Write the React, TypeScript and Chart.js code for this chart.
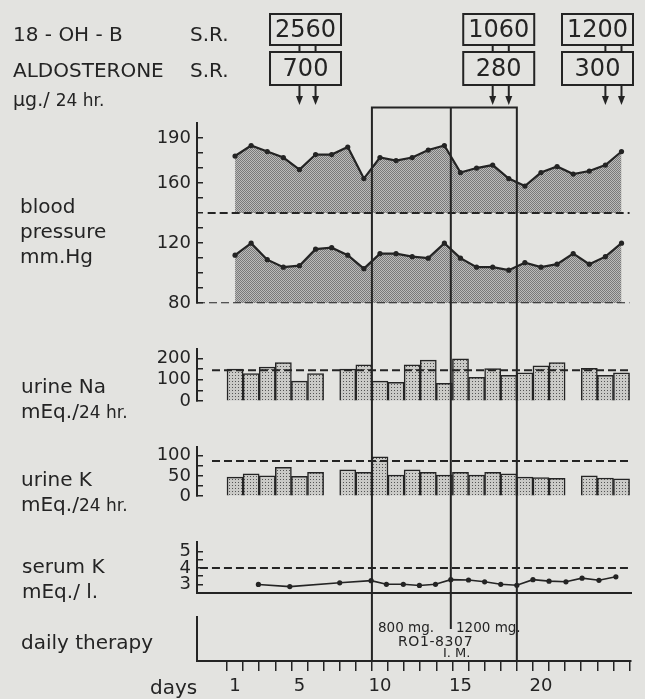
import React, { useEffect, useRef } from "react";
import { Chart, registerables } from "chart.js";
Chart.register(...registerables);

const FONT = '"DejaVu Sans", "Liberation Sans", sans-serif';
const INK = "#242424";
const PAPER = "#e3e3e0";

// ---------------- data ----------------
const bpDays = [1, 2, 3, 4, 5, 6, 7, 8, 9, 10, 11, 12, 13, 14, 15, 16, 17, 18, 19, 20, 21, 22, 23, 24, 25];
const systolic = [178, 185, 181, 177, 169, 179, 179, 184, 163, 177, 175, 177, 182, 185, 167, 170, 172, 163, 158, 167, 171, 166, 168, 172, 181];
const diastolic = [112, 120, 109, 104, 105, 116, 117, 112, 103, 113, 113, 111, 110, 120, 110, 104, 104, 102, 107, 104, 106, 113, 106, 111, 120];
const bpNormalHigh = 140;
const bpNormalLow = 80;
const bpTicks = [80, 90, 100, 110, 120, 130, 140, 150, 160, 170, 180, 190];
const bpTickLabels = [80, 120, 160, 190];

const urineDays = [1, 2, 3, 4, 5, 6, 7, 8, 9, 10, 11, 12, 13, 14, 15, 16, 17, 18, 19, 20, 21, 22, 23, 24, 25];
const urineNa = [150, 129, 160, 180, 94, 129, null, 150, 170, 94, 88, 170, 192, 83, 198, 112, 153, 121, 133, 165, 180, null, 154, 121, 133];
const urineNaNormal = 145;
const naTicks = [0, 50, 100, 150, 200];
const naTickLabels = [0, 100, 200];

const urineK = [47, 55, 50, 71, 49, 59, null, 65, 59, 97, 52, 65, 59, 52, 59, 52, 59, 55, 47, 46, 44, null, 50, 45, 43];
const urineKNormal = 87;
const kTicks = [0, 25, 50, 75, 100];
const kTickLabels = [0, 50, 100];

const serumKDays = [2.45, 4.4, 7.5, 9.45, 10.4, 11.45, 12.45, 13.45, 14.4, 15.5, 16.5, 17.5, 18.5, 19.5, 20.5, 21.55, 22.55, 23.6, 24.65];
const serumK = [3.0, 2.87, 3.1, 3.23, 3.01, 3.01, 2.94, 3.01, 3.29, 3.27, 3.16, 3.01, 2.95, 3.29, 3.2, 3.16, 3.38, 3.25, 3.46];
const serumKNormal = 4;
const serumKTicks = [3, 3.5, 4, 4.5, 5];
const serumKTickLabels = [3, 4, 5];

const dayBoundaries = [0.5, 1.5, 2.5, 3.5, 4.5, 5.5, 6.5, 7.5, 8.5, 9.5, 10.5, 11.5, 12.5, 13.5, 14.5, 15.5, 16.5, 17.5, 18.5, 19.5, 20.5, 21.5, 22.5, 23.5, 24.5, 25.5];
const dayTickLabels = [1, 5, 10, 15, 20];

const therapyStart = 9.5;
const doseChange = 14.4;
const therapyEnd = 18.5;

const srDays = [[5, 6], [17, 18], [24, 25]];
const ohbSecretion = [2560, 1060, 1200];
const aldoSecretion = [700, 280, 300];

// ---------------- layout ----------------
const X_MIN = -1.363;
const X_MAX = 25.59;
const AXIS_W = 197;
const PAD_R = 14;

function makePattern(ctx: CanvasRenderingContext2D, bg: string, dot: string, size: number, dots: number[][]) {
  const c = document.createElement("canvas");
  c.width = size;
  c.height = size;
  const g = c.getContext("2d")!;
  g.fillStyle = bg;
  g.fillRect(0, 0, size, size);
  g.fillStyle = dot;
  dots.forEach(([x, y]) => g.fillRect(x, y, 1, 1));
  return ctx.createPattern(c, "repeat");
}

function yAxis(min: number, max: number, ticks: number[], labels: number[]) {
  return {
    type: "linear",
    min,
    max,
    afterBuildTicks: (s: any) => {
      s.ticks = ticks.map((v) => ({ value: v }));
    },
    afterFit: (s: any) => {
      s.width = AXIS_W;
    },
    border: { display: true, color: INK, width: 2 },
    grid: { drawOnChartArea: false, drawTicks: true, tickLength: -6, color: INK, lineWidth: 1.5 },
    ticks: {
      autoSkip: false,
      padding: 12,
      color: INK,
      font: { family: FONT, size: 18 },
      callback: (v: number) => (labels.includes(v) ? String(v) : ""),
    },
  };
}

function hiddenX() {
  return { type: "linear", min: X_MIN, max: X_MAX, display: false, offset: false };
}

function vline(x: number, y1: number, y2: number) {
  return {
    type: "line",
    data: [
      { x, y: y1 },
      { x, y: y2 },
    ],
    borderColor: INK,
    borderWidth: 2,
    pointRadius: 0,
    fill: false,
    clip: false,
    order: 1,
  };
}

function dashed(y: number, from: number) {
  return {
    type: "line",
    data: [
      { x: from, y },
      { x: 25.5, y },
    ],
    borderColor: INK,
    borderWidth: 2,
    borderDash: [8, 4],
    pointRadius: 0,
    fill: false,
    order: 0,
  };
}

function baseOptions(padding: any, scales: any, plugins: any = {}) {
  return {
    responsive: false,
    maintainAspectRatio: false,
    animation: false,
    events: [],
    layout: { padding },
    plugins: { legend: { display: false }, tooltip: { enabled: false }, ...plugins },
    scales,
  };
}

const srBoxesPlugin = {
  id: "srBoxes",
  afterDatasetsDraw(chart: any) {
    const ctx = chart.ctx;
    const xs = chart.scales.x;
    ctx.save();
    ctx.strokeStyle = INK;
    ctx.fillStyle = INK;
    ctx.lineWidth = 2;
    ctx.font = `24px ${FONT}`;
    ctx.textAlign = "center";
    ctx.textBaseline = "middle";
    srDays.forEach((pair, i) => {
      const x1 = xs.getPixelForValue(pair[0]);
      const x2 = xs.getPixelForValue(pair[1]);
      const w = 71;
      const left = Math.min((x1 + x2) / 2 - w / 2 - 2, chart.width - 12 - w);
      const cx = left + w / 2;
      ctx.strokeRect(left, 14, w, 31);
      ctx.strokeRect(left, 52, w, 33);
      ctx.fillText(String(ohbSecretion[i]), cx, 31);
      ctx.fillText(String(aldoSecretion[i]), cx, 70);
      [x1, x2].forEach((ax) => {
        ctx.beginPath();
        ctx.moveTo(ax, 45);
        ctx.lineTo(ax, 52);
        ctx.moveTo(ax, 85);
        ctx.lineTo(ax, 97);
        ctx.stroke();
        ctx.beginPath();
        ctx.moveTo(ax - 3.5, 96);
        ctx.lineTo(ax + 3.5, 96);
        ctx.lineTo(ax, 105);
        ctx.closePath();
        ctx.fill();
      });
    });
    ctx.restore();
  },
};

function T({ x, b, s = 20, children, style }: any) {
  return (
    <div
      style={{
        position: "absolute",
        left: x,
        top: b - 0.846 * s,
        fontSize: s,
        lineHeight: `${s}px`,
        whiteSpace: "nowrap",
        ...style,
      }}
    >
      {children}
    </div>
  );
}

export default function App() {
  const aRef = useRef<HTMLCanvasElement>(null);
  const bRef = useRef<HTMLCanvasElement>(null);
  const cRef = useRef<HTMLCanvasElement>(null);
  const dRef = useRef<HTMLCanvasElement>(null);
  const eRef = useRef<HTMLCanvasElement>(null);

  useEffect(() => {
    const charts: Chart[] = [];
    const actx = aRef.current!.getContext("2d")!;
    const bpPattern = makePattern(actx, "#bcbcbb", "#7a7a7a", 2, [
      [0, 0],
      [1, 1],
    ]);
    const naPattern = makePattern(bRef.current!.getContext("2d")!, "#cacac7", "#555555", 3, [[1, 1]]);
    const kPattern = makePattern(cRef.current!.getContext("2d")!, "#cacac7", "#555555", 3, [[1, 1]]);

    // ---- blood pressure ----
    const frameTop = 210.3;
    charts.push(
      new Chart(aRef.current!, {
        type: "line",
        data: {
          datasets: [
            dashed(bpNormalHigh, -0.7),
            dashed(bpNormalLow, X_MIN),
            {
              type: "line",
              data: [
                { x: therapyStart, y: -100 },
                { x: therapyStart, y: frameTop },
                { x: therapyEnd, y: frameTop },
                { x: therapyEnd, y: -100 },
              ],
              borderColor: INK,
              borderWidth: 2,
              pointRadius: 0,
              fill: false,
              clip: false,
              order: 1,
            },
            vline(doseChange, frameTop, -100),
            {
              type: "line",
              data: bpDays.map((d, i) => ({ x: d, y: systolic[i] })),
              borderColor: INK,
              borderWidth: 2.2,
              pointRadius: 2.6,
              pointBorderWidth: 0,
              pointBackgroundColor: INK,
              backgroundColor: bpPattern,
              fill: { value: bpNormalHigh },
              tension: 0,
              order: 2,
            },
            {
              type: "line",
              data: bpDays.map((d, i) => ({ x: d, y: diastolic[i] })),
              borderColor: INK,
              borderWidth: 2.2,
              pointRadius: 2.6,
              pointBorderWidth: 0,
              pointBackgroundColor: INK,
              backgroundColor: bpPattern,
              fill: { value: bpNormalLow },
              tension: 0,
              order: 3,
            },
          ] as any,
        },
        options: baseOptions({ top: 123, bottom: 17, left: 0, right: PAD_R }, {
          x: hiddenX(),
          y: yAxis(80, 200, bpTicks, bpTickLabels),
        }) as any,
        plugins: [srBoxesPlugin],
      })
    );

    // ---- urine Na ----
    const barDataset = (vals: (number | null)[], pattern: any) => ({
      type: "bar",
      data: urineDays.map((d, i) => ({ x: d, y: vals[i] })),
      backgroundColor: pattern,
      borderColor: INK,
      borderWidth: 1.5,
      barPercentage: 1,
      categoryPercentage: 1,
      order: 2,
    });
    charts.push(
      new Chart(bRef.current!, {
        type: "bar",
        data: {
          datasets: [
            dashed(urineNaNormal, -0.43),
            vline(therapyStart, -300, 600),
            vline(doseChange, -300, 600),
            vline(therapyEnd, -300, 600),
            barDataset(urineNa, naPattern),
          ] as any,
        },
        options: baseOptions({ top: 19, bottom: 8, left: 0, right: PAD_R }, {
          x: hiddenX(),
          y: yAxis(0, 245, naTicks, naTickLabels),
        }) as any,
      })
    );

    // ---- urine K ----
    charts.push(
      new Chart(cRef.current!, {
        type: "bar",
        data: {
          datasets: [
            dashed(urineKNormal, -0.43),
            vline(therapyStart, -150, 300),
            vline(doseChange, -150, 300),
            vline(therapyEnd, -150, 300),
            barDataset(urineK, kPattern),
          ] as any,
        },
        options: baseOptions({ top: 16, bottom: 10, left: 0, right: PAD_R }, {
          x: hiddenX(),
          y: yAxis(0, 122, kTicks, kTickLabels),
        }) as any,
      })
    );

    // ---- serum K ----
    charts.push(
      new Chart(dRef.current!, {
        type: "line",
        data: {
          datasets: [
            dashed(serumKNormal, -1.18),
            vline(therapyStart, -5, 12),
            vline(doseChange, -5, 12),
            vline(therapyEnd, -5, 12),
            {
              type: "line",
              data: serumKDays.map((d, i) => ({ x: d, y: serumK[i] })),
              borderColor: INK,
              borderWidth: 1.6,
              pointRadius: 2.6,
              pointBorderWidth: 0,
              pointBackgroundColor: INK,
              fill: false,
              tension: 0,
              order: 2,
            },
          ] as any,
        },
        options: baseOptions({ top: 14, bottom: 1, left: 0, right: PAD_R }, {
          x: {
            type: "linear",
            min: X_MIN,
            max: X_MAX,
            offset: false,
            border: { display: true, color: INK, width: 2 },
            grid: { drawOnChartArea: false, drawTicks: false },
            ticks: { display: false },
            afterFit: (s: any) => {
              s.height = 0;
            },
          },
          y: yAxis(2.47, 5.58, serumKTicks, serumKTickLabels),
        }) as any,
      })
    );

    // ---- daily therapy + day axis ----
    charts.push(
      new Chart(eRef.current!, {
        type: "line",
        data: {
          datasets: [
            vline(therapyStart, 3, 0),
            vline(doseChange, 3, 0.71),
            vline(therapyEnd, 3, 0),
          ] as any,
        },
        options: baseOptions({ top: 0, bottom: 0, left: 0, right: PAD_R }, {
          xt: {
            type: "linear",
            axis: "x",
            position: "bottom",
            weight: 0,
            min: X_MIN,
            max: X_MAX,
            offset: false,
            afterBuildTicks: (s: any) => {
              s.ticks = dayBoundaries.map((v) => ({ value: v }));
            },
            border: { display: true, color: INK, width: 2 },
            grid: { drawOnChartArea: false, drawTicks: true, tickLength: 10, color: INK, lineWidth: 1.5 },
            ticks: { display: false, autoSkip: false },
            afterFit: (s: any) => {
              s.height = 10;
            },
          },
          x: {
            type: "linear",
            axis: "x",
            position: "bottom",
            weight: 1,
            min: X_MIN,
            max: X_MAX,
            offset: false,
            afterBuildTicks: (s: any) => {
              s.ticks = dayTickLabels.map((v) => ({ value: v }));
            },
            border: { display: false },
            grid: { display: false, drawTicks: false },
            ticks: {
              padding: 5,
              autoSkip: false,
              maxRotation: 0,
              color: INK,
              font: { family: FONT, size: 18 },
              callback: (v: number) => String(v),
            },
            afterFit: (s: any) => {
              s.height = 28;
            },
          },
          y: {
            type: "linear",
            min: 0,
            max: 1,
            afterBuildTicks: (s: any) => {
              s.ticks = [{ value: 0 }];
            },
            afterFit: (s: any) => {
              s.width = AXIS_W;
            },
            border: { display: true, color: INK, width: 2 },
            grid: { drawOnChartArea: false, drawTicks: false },
            ticks: { display: false },
          },
        }) as any,
      })
    );

    return () => charts.forEach((c) => c.destroy());
  }, []);

  const small = { fontSize: 17 };
  return (
    <div
      style={{
        position: "absolute",
        left: 0,
        top: 0,
        width: 645,
        height: 699,
        background: PAPER,
        overflow: "hidden",
        fontFamily: FONT,
        color: INK,
      }}
    >
      <canvas ref={aRef} width={645} height={326} style={{ position: "absolute", left: 0, top: 0 }} />
      <canvas ref={bRef} width={645} height={98} style={{ position: "absolute", left: 0, top: 326 }} />
      <canvas ref={cRef} width={645} height={95} style={{ position: "absolute", left: 0, top: 424 }} />
      <canvas ref={dRef} width={645} height={97} style={{ position: "absolute", left: 0, top: 519 }} />
      <canvas ref={eRef} width={645} height={83} style={{ position: "absolute", left: 0, top: 616 }} />

      <T x={13} b={41}>18 - OH - B</T>
      <T x={190} b={41}>S.R.</T>
      <T x={13} b={77}>ALDOSTERONE</T>
      <T x={190} b={77}>S.R.</T>
      <T x={13} b={106} s={19}>
        μg./ <span style={small}>24 hr.</span>
      </T>

      <T x={20} b={213}>blood</T>
      <T x={20} b={238}>pressure</T>
      <T x={20} b={263}>mm.Hg</T>

      <T x={21} b={393}>urine Na</T>
      <T x={21} b={418}>
        mEq./<span style={small}>24 hr.</span>
      </T>

      <T x={21} b={486}>urine K</T>
      <T x={21} b={511}>
        mEq./<span style={small}>24 hr.</span>
      </T>

      <T x={22} b={573}>serum K</T>
      <T x={22} b={598}>mEq./ l.</T>

      <T x={21} b={649}>daily therapy</T>
      <T x={150} b={694}>days</T>

      <T x={378} b={632} s={13.5}>800 mg.</T>
      <T x={456} b={632} s={13.5}>1200 mg.</T>
      <T x={398} b={646} s={14} style={{ letterSpacing: 0.6 }}>RO1-8307</T>
      <T x={443} b={657} s={13}>I. M.</T>
    </div>
  );
}
